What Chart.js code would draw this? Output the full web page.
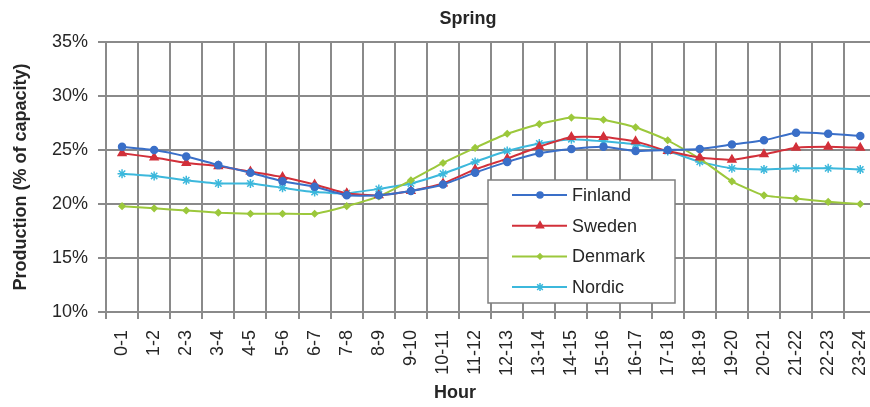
<!DOCTYPE html>
<html>
<head>
<meta charset="utf-8">
<script src="https://cdn.jsdelivr.net/npm/chart.js@4"></script>
<style>
  html, body { margin: 0; padding: 0; overflow: hidden; background: #fff; }
  #wrap { width: 893px; height: 407px; }
</style>
</head>
<body>
<div id="wrap"><canvas id="chart" width="893" height="407"></canvas></div>
<script>
const hours = ['0-1', '1-2', '2-3', '3-4', '4-5', '5-6', '6-7', '7-8', '8-9', '9-10', '10-11', '11-12',
               '12-13', '13-14', '14-15', '15-16', '16-17', '17-18', '18-19', '19-20', '20-21', '21-22', '22-23', '23-24'];
const finland = [25.3, 25.0, 24.4, 23.6, 22.9, 22.1, 21.6, 20.8, 20.8, 21.2, 21.8, 22.9, 23.9, 24.7, 25.1, 25.3, 24.9, 25.0, 25.1, 25.5, 25.9, 26.6, 26.5, 26.3];
const sweden = [24.7, 24.3, 23.8, 23.5, 23.0, 22.5, 21.8, 21.0, 20.8, 21.2, 21.9, 23.2, 24.2, 25.3, 26.2, 26.2, 25.8, 24.9, 24.3, 24.1, 24.6, 25.2, 25.3, 25.2];
const denmark = [19.8, 19.6, 19.4, 19.2, 19.1, 19.1, 19.1, 19.8, 20.7, 22.2, 23.8, 25.2, 26.5, 27.4, 28.0, 27.8, 27.1, 25.9, 24.2, 22.1, 20.8, 20.5, 20.2, 20.0];
const nordic = [22.8, 22.6, 22.2, 21.9, 21.9, 21.5, 21.1, 21.0, 21.4, 21.9, 22.8, 23.9, 24.9, 25.6, 26.0, 25.8, 25.5, 24.9, 23.9, 23.3, 23.2, 23.3, 23.3, 23.2];
const yTicks = [10, 15, 20, 25, 30, 35];

const FONT = '"Liberation Sans", Arial, sans-serif';
const TEXT = '#262626';
const GRID = '#8a8a8a';

function series(label, data, color, style, radius) {
    return {
        label: label,
        data: data,
        borderColor: color,
        backgroundColor: color,
        borderWidth: 2,
        pointStyle: style,
        pointRadius: radius,
        pointBorderWidth: 1.5,
        tension: 0.15,
        fill: false
    };
}

// chart title, x axis title and the boxed legend drawn on top
const extras = {
    id: 'extras',
    afterDraw(chart) {
        const ctx = chart.ctx;
        ctx.save();
        ctx.fillStyle = TEXT;
        ctx.textAlign = 'center';
        ctx.textBaseline = 'middle';
        ctx.font = 'bold 18px ' + FONT;
        ctx.fillText('Spring', 468, 19);
        ctx.fillText('Hour', 455, 393);

        // legend box
        const bx = 488, by = 180, bw = 187, bh = 123;
        ctx.fillStyle = '#fff';
        ctx.fillRect(bx, by, bw, bh);
        ctx.strokeStyle = '#7f7f7f';
        ctx.lineWidth = 1.5;
        ctx.strokeRect(bx, by, bw, bh);
        ctx.font = '18px ' + FONT;
        ctx.textAlign = 'left';
        chart.data.datasets.forEach((ds, i) => {
            const y = by + 15 + i * 30.7;
            ctx.strokeStyle = ds.borderColor;
            ctx.lineWidth = 2;
            ctx.beginPath();
            ctx.moveTo(512, y);
            ctx.lineTo(567, y);
            ctx.stroke();
            ctx.fillStyle = ds.backgroundColor;
            ctx.lineWidth = 1.5;
            if (Chart.helpers && Chart.helpers.drawPoint) {
                Chart.helpers.drawPoint(ctx, { pointStyle: ds.pointStyle, radius: ds.pointRadius - 0.5, rotation: 0, borderWidth: 1.5 }, 540, y);
            }
            ctx.fillStyle = TEXT;
            ctx.fillText(ds.label, 572, y + 1);
        });
        ctx.restore();
    }
};

const chart = new Chart(document.getElementById('chart'), {
    type: 'line',
    data: {
        labels: hours,
        datasets: [
            series('Finland', finland, '#3a6fc8', 'circle', 3.5),
            series('Sweden', sweden, '#d2303a', 'triangle', 4.5),
            series('Denmark', denmark, '#9cc83c', 'rectRot', 3),
            series('Nordic', nordic, '#3cb8dc', 'star', 4.5)
        ]
    },
    options: {
        responsive: false,
        animation: false,
        devicePixelRatio: 1,
        layout: { padding: { left: 0, top: 42, right: 0, bottom: 0 } },
        plugins: {
            legend: { display: false },
            title: { display: false },
            tooltip: { enabled: false }
        },
        scales: {
            x: {
                offset: true,
                grid: { offset: true, color: GRID, lineWidth: 2, tickLength: 7, tickColor: GRID },
                border: { color: GRID, width: 2 },
                ticks: {
                    autoSkip: false,
                    minRotation: 90,
                    maxRotation: 90,
                    padding: 11,
                    color: TEXT,
                    font: { family: FONT, size: 18 }
                },
                afterFit(scale) { scale.height = 95; }
            },
            y: {
                min: yTicks[0],
                max: yTicks[yTicks.length - 1],
                afterBuildTicks(scale) { scale.ticks = yTicks.map(v => ({ value: v })); },
                grid: { color: GRID, lineWidth: 2, tickLength: 8, tickColor: GRID },
                border: { color: GRID, width: 2 },
                ticks: {
                    padding: 10,
                    color: TEXT,
                    font: { family: FONT, size: 18 },
                    callback: v => v + '%'
                },
                title: {
                    display: true,
                    text: 'Production (% of capacity)',
                    color: TEXT,
                    font: { family: FONT, size: 18, weight: 'bold' },
                    padding: { top: 10, bottom: 0 }
                },
                afterFit(scale) { scale.width = 106; }
            }
        }
    },
    plugins: [extras]
});
</script>
</body>
</html>
